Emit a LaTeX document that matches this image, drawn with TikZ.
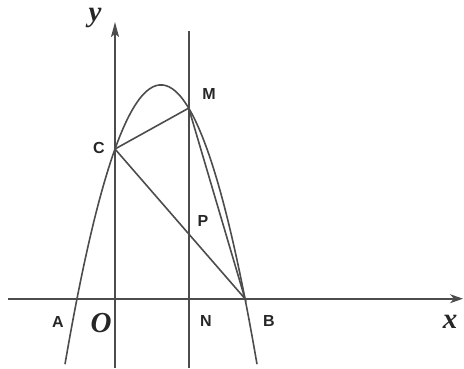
\documentclass[tikz,border=0pt]{standalone}
\usepackage{fontspec}
\setmainfont{Liberation Sans}
\newfontfamily\serifit{Liberation Serif}
\usetikzlibrary{arrows.meta}
\begin{document}
\begin{tikzpicture}[x=1pt,y=-1pt,
  ln/.style={draw=black!70,line width=1.6pt},
  lbl/.style={font=\fontsize{16}{16}\selectfont\bfseries,inner sep=0pt,text=black!85},
  axl/.style={font=\serifit\fontsize{29}{29}\selectfont\bfseries\itshape,inner sep=0pt,text=black!85}]
\useasboundingbox (0,0) rectangle (464,368);
\def\pa{0.0303}
% points
\coordinate (O) at (115,298.7);
\coordinate (A) at (77,298.7);
\coordinate (B) at (245,298.7);
\coordinate (C) at (115,{298.7-\pa*(115-77)*(245-115)});
\coordinate (N) at (188.7,298.7);
\coordinate (M) at (188.7,{298.7-\pa*(188.7-77)*(245-188.7)});
\coordinate (xs) at (8,298.7);
\coordinate (xe) at (463,298.7);
\coordinate (ys) at (115,368);
\coordinate (ye) at (115,22);
\coordinate (ls) at (188.7,368);
\coordinate (le) at (188.7,31);
% axes
\draw[ln,-{Stealth[length=13pt,width=9pt,inset=4pt]}] (xs) -- (xe);
\draw[ln,-{Stealth[length=15pt,width=8pt,inset=3pt]}] (ys) -- (ye);
\draw[ln] (ls) -- (le);
% parabola
\draw[ln,smooth,samples=60,domain=65:257] plot (\x,{298.7-\pa*(\x-77)*(245-\x)});
% segments
\draw[ln] (C) -- (M) -- (B) -- (C);
% labels
\node[axl] (ylab) at (95,18) {y};
\node[axl] (xlab) at (450,322) {x};
\node[axl] (olab) at (101,323) {O};
\node[lbl] (alab) at (58,322) {A};
\node[lbl] (nlab) at (206,321) {N};
\node[lbl] (blab) at (269,321) {B};
\node[lbl] (mlab) at (209,94) {M};
\node[lbl] (clab) at (99,148) {C};
\node[lbl] (plab) at (203,221) {P};
\end{tikzpicture}
\end{document}
